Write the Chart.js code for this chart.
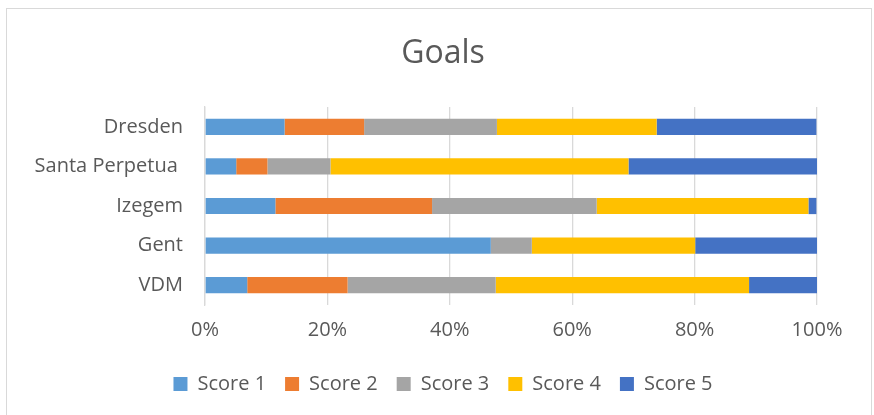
<!DOCTYPE html>
<html>
<head>
<meta charset="utf-8">
<title>Goals</title>
<script src="https://cdn.jsdelivr.net/npm/chart.js@4/dist/chart.umd.min.js"></script>
<style>
  html, body { margin: 0; padding: 0; background: #fff; }
  #wrap { position: relative; width: 874px; height: 415px; }
</style>
</head>
<body>
<div id="wrap"><canvas id="chart" width="874" height="415"></canvas></div>
<script>
// share of answers per score, in percent of each location
const locations = ["Dresden", "Santa Perpetua ", "Izegem", "Gent", "VDM"];
const score1 = [13.0, 5.1, 11.5, 46.7, 6.9];
const score2 = [13.0, 5.1, 25.6, 0, 16.4];
const score3 = [21.7, 10.3, 26.9, 6.7, 24.2];
const score4 = [26.1, 48.7, 34.6, 26.7, 41.4];
const score5 = [26.1, 30.8, 1.3, 20.0, 11.1];
const xTicks = [0, 20, 40, 60, 80, 100];

const series = [
  { name: "Score 1", values: score1, color: "#5B9BD5" },
  { name: "Score 2", values: score2, color: "#ED7D31" },
  { name: "Score 3", values: score3, color: "#A5A5A5" },
  { name: "Score 4", values: score4, color: "#FFC000" },
  { name: "Score 5", values: score5, color: "#4472C4" },
];

Chart.defaults.font.family = "'Open Sans', sans-serif";
Chart.defaults.font.size = 20;
Chart.defaults.color = "#595959";

// light frame around the whole chart
const frame = {
  id: "frame",
  beforeDraw(chart) {
    const ctx = chart.ctx;
    ctx.save();
    ctx.strokeStyle = "#d9d9d9";
    ctx.lineWidth = 1;
    ctx.strokeRect(6.5, 8.5, 865, 412);
    ctx.restore();
  },
};

new Chart(document.getElementById("chart"), {
  type: "bar",
  data: {
    labels: locations,
    datasets: series.map((s) => ({
      label: s.name,
      data: s.values,
      backgroundColor: s.color,
      borderWidth: 0,
      categoryPercentage: 1,
      barPercentage: 0.41,
    })),
  },
  options: {
    indexAxis: "y",
    responsive: false,
    animation: false,
    layout: { padding: { left: 12, right: 0, top: 0, bottom: 11 } },
    scales: {
      x: {
        stacked: true,
        min: 0,
        max: 100,
        afterBuildTicks: (scale) => {
          scale.ticks = xTicks.map((v) => ({ value: v }));
        },
        afterFit: (scale) => {
          scale.height = 50;
        },
        ticks: {
          padding: 13,
          callback: (v) => v + "%",
        },
        grid: { color: "#d9d9d9", lineWidth: 1.3, drawTicks: false },
        border: { display: false },
      },
      y: {
        stacked: true,
        afterFit: (scale) => {
          scale.width = 193;
        },
        ticks: { padding: 22 },
        grid: { display: false, drawTicks: false },
        border: { display: true, color: "#d9d9d9", width: 1.3 },
      },
      // empty strip on the right so the plot ends short of the frame
      gap: {
        type: "category",
        position: "right",
        afterFit: (scale) => {
          scale.width = 57;
        },
        ticks: { display: false },
        grid: { display: false, drawTicks: false },
        border: { display: false },
      },
    },
    plugins: {
      title: {
        display: true,
        text: "Goals",
        color: "#595959",
        font: { size: 32, weight: "normal" },
        padding: { top: 35, bottom: 33.6 },
      },
      legend: {
        position: "bottom",
        labels: {
          boxWidth: 14,
          boxHeight: 14,
          padding: 19,
          color: "#595959",
        },
      },
      tooltip: { enabled: false },
    },
  },
  plugins: [frame],
});
</script>
</body>
</html>
